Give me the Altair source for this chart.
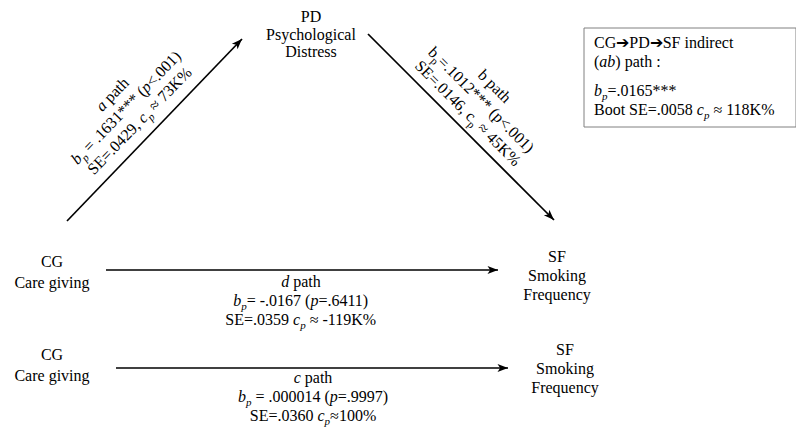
import math
import re
import altair as alt
import pandas as pd

W, H = 788, 421
FONT = "Liberation Serif"
FS, SUB = 16, 11

# ---------------- text content ----------------
# {i:..} italic, {s:..} italic subscript, {t:..} upright subscript
PD_LINES = ["PD", "Psychological", "Distress"]
CG_LINES = ["CG", "Care giving"]
SF_LINES = ["SF", "Smoking", "Frequency"]
A_LINES = ["{i:a} path", "{i:b}{s:p} = .1631*** ({i:p}<.001)", "SE=.0429, {i:c}{s:p} ≈ 73K%"]
B_LINES = ["b path", "b{t:p}=.1012*** (p<.001)", "SE=.0146, c{t:p} ≈ 45K%"]
D_LINES = ["{i:d} path", "{i:b}{s:p}= -.0167 ({i:p}=.6411)", "SE=.0359 {i:c}{s:p} ≈ -119K%"]
C_LINES = ["{i:c} path", "{i:b}{s:p} = .000014 ({i:p}=.9997)", "SE=.0360 {i:c}{s:p}≈100%"]
BOX_TOP = ["CG➔PD➔SF indirect", "({i:ab}) path :"]
BOX_BOTTOM = ["{i:b}{s:p}=.0165***", "Boot SE=.0058 {i:c}{s:p} ≈ 118K%"]

# ---------------- arrows (paths a, b, d, c) ----------------
arrow_name = ["a", "b", "d", "c"]
arrow_x1 = [67, 368, 106, 116]
arrow_y1 = [221, 34, 270, 368]
arrow_x2 = [242, 554, 498, 508]
arrow_y2 = [39, 220, 270, 368]
arrow_angle = [314, 45, 0, 0]

# indirect-effect box
box_x, box_y, box_x2, box_y2 = [584], [28], [796], [127]

# ---------------- block layout: lines, x, baseline y, angle, align, line height ----
BLOCKS = [
    (PD_LINES, 311, 22, 0, "center", 17.5),
    (CG_LINES, 52, 267, 0, "center", 21),
    (SF_LINES, 557, 262, 0, "center", 19),
    (CG_LINES, 52, 360, 0, "center", 21),
    (SF_LINES, 565, 355, 0, "center", 19),
    (A_LINES, 116, 98, -46, "center", 19),
    (B_LINES, 491, 90, 45, "center", 19),
    (D_LINES, 301, 287, 0, "center", 19),
    (C_LINES, 313, 383, 0, "center", 19),
    (BOX_TOP, 594, 48, 0, "left", 19),
    (BOX_BOTTOM, 594, 96, 0, "left", 19),
]

# Times-compatible advance widths (per 1000 em)
REG = {" ": 250, "(": 333, ")": 333, "*": 500, ",": 250, "-": 333, ".": 250, ":": 278,
       "<": 564, "=": 564, "%": 833, "≈": 549, "➔": 838,
       "B": 667, "C": 667, "D": 722, "E": 611, "F": 556, "G": 722, "K": 722, "P": 556, "S": 556,
       "a": 444, "b": 500, "c": 444, "d": 500, "e": 444, "f": 333, "g": 500, "h": 500, "i": 278,
       "k": 500, "l": 278, "m": 778, "n": 500, "o": 500, "p": 500, "q": 500, "r": 333, "s": 389,
       "t": 278, "u": 500, "v": 500, "y": 500}
ITA = {"a": 500, "b": 500, "c": 444, "d": 500, "p": 500}


def width(s, size, italic):
    tab = ITA if italic else REG
    return sum(tab.get(ch, REG.get(ch, 500)) for ch in s) * size / 1000.0


def parse(line):
    segs, pos = [], 0
    for m in re.finditer(r"\{([ist]):([^}]*)\}", line):
        if m.start() > pos:
            segs.append((line[pos:m.start()], "n"))
        segs.append((m.group(2), m.group(1)))
        pos = m.end()
    if pos < len(line):
        segs.append((line[pos:], "n"))
    return segs


rows = []
for lines, bx, by, ang, align, lh in BLOCKS:
    th = math.radians(ang)
    ux, uy = math.cos(th), math.sin(th)
    nx, ny = -math.sin(th), math.cos(th)
    for i, line in enumerate(lines):
        info = []
        for txt, st in parse(line):
            size = SUB if st in ("s", "t") else FS
            it = st in ("i", "s")
            info.append((txt, size, it, 4 if st in ("s", "t") else 0, width(txt, size, it)))
        total = sum(w for *_, w in info)
        d = -total / 2 if align == "center" else 0.0
        for txt, size, it, sv, w in info:
            lead = len(txt) - len(txt.lstrip(" "))
            dd = d + width(" " * lead, size, it)
            v = i * lh + sv
            if txt.strip():
                rows.append({"t": txt.strip(" "), "x": bx + dd * ux + v * nx,
                             "y": by + dd * uy + v * ny, "ang": ang % 360,
                             "size": size, "it": it})
            d += w

seg = pd.DataFrame(rows)

xs = alt.Scale(domain=[8, 8 + W], nice=False, zero=False)
ys = alt.Scale(domain=[8 + H, 8], nice=False, zero=False)


def X(f):
    return alt.X(f, type="quantitative", scale=xs, axis=None)


def Y(f):
    return alt.Y(f, type="quantitative", scale=ys, axis=None)


arrows = pd.DataFrame({"n": arrow_name, "x": arrow_x1, "y": arrow_y1,
                       "x2": arrow_x2, "y2": arrow_y2, "ang": arrow_angle})
box = pd.DataFrame({"x": box_x, "y": box_y, "x2": box_x2, "y2": box_y2})

shaft = alt.Chart(arrows).mark_rule(color="black", strokeWidth=1.7).encode(
    x=X("x"), y=Y("y"), x2="x2:Q", y2="y2:Q")

head = alt.Chart(arrows).mark_point(
    shape="M 0 0 L -2 -0.75 L -1.5 0 L -2 0.75 Z", filled=True, color="black",
    opacity=1, size=110, strokeWidth=0
).encode(x=X("x2"), y=Y("y2"), angle=alt.Angle("ang:Q", scale=None))

box_rect = alt.Chart(box).mark_rect(fill="white", stroke="#808080", strokeWidth=1).encode(
    x=X("x"), y=Y("y"), x2="x2:Q", y2="y2:Q")

layers = [shaft, head, box_rect]
for italic in (False, True):
    layers.append(alt.Chart(seg[seg["it"] == italic]).mark_text(
        font=FONT, align="left", baseline="alphabetic", color="black",
        fontStyle="italic" if italic else "normal"
    ).encode(x=X("x"), y=Y("y"), text="t:N",
             angle=alt.Angle("ang:Q", scale=None),
             size=alt.Size("size:Q", scale=None, legend=None)))

chart = alt.layer(*layers).properties(
    width=W, height=H, padding=0, background="white",
    autosize=alt.AutoSizeParams(type="none")
).configure_view(stroke=None)

chart.save("out.html", embed_options={"renderer": "svg", "actions": False})
